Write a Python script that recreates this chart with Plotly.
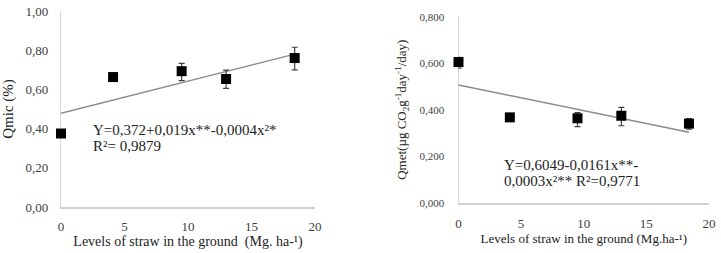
import plotly.graph_objects as go

# ---- data ----
straw = [0, 4.1, 9.5, 13.0, 18.4]

qmic = [0.375, 0.663, 0.693, 0.653, 0.760]
qmic_err_plus = [0.0, 0.0, 0.040, 0.045, 0.055]
qmic_err_minus = [0.0, 0.0, 0.048, 0.048, 0.060]
qmic_trend_x = [0, 18.4]
qmic_trend_y = [0.478, 0.780]

qmet = [0.605, 0.367, 0.363, 0.374, 0.340]
qmet_err_plus = [0.020, 0.0, 0.024, 0.036, 0.022]
qmet_err_minus = [0.026, 0.0, 0.036, 0.043, 0.024]
qmet_trend_x = [0, 18.4]
qmet_trend_y = [0.506, 0.303]

x_ticks = [0, 5, 10, 15, 20]
qmic_ticks = [0, 0.2, 0.4, 0.6, 0.8, 1.0]
qmic_ticktext = ["0,00", "0,20", "0,40", "0,60", "0,80", "1,00"]
qmet_ticks = [0, 0.2, 0.4, 0.6, 0.8]
qmet_ticktext = ["0,000", "0,200", "0,400", "0,600", "0,800"]

W, H = 721, 253
FONT = "Liberation Serif"
TICKC = "#404040"
TXT = "#222222"

fig = go.Figure()

# Left panel
fig.add_trace(go.Scatter(x=qmic_trend_x, y=qmic_trend_y, mode="lines",
                         line=dict(color="#8c8c8c", width=1.5),
                         xaxis="x", yaxis="y", showlegend=False))
fig.add_trace(go.Scatter(x=straw, y=qmic, mode="markers", cliponaxis=False,
                         marker=dict(symbol="square", size=10, color="black"),
                         error_y=dict(type="data", symmetric=False, array=qmic_err_plus,
                                      arrayminus=qmic_err_minus, color="#404040",
                                      thickness=1.2, width=3),
                         xaxis="x", yaxis="y", showlegend=False))

# Right panel
fig.add_trace(go.Scatter(x=qmet_trend_x, y=qmet_trend_y, mode="lines",
                         line=dict(color="#8c8c8c", width=1.5),
                         xaxis="x2", yaxis="y2", showlegend=False))
fig.add_trace(go.Scatter(x=straw, y=qmet, mode="markers", cliponaxis=False,
                         marker=dict(symbol="square", size=10, color="black"),
                         error_y=dict(type="data", symmetric=False, array=qmet_err_plus,
                                      arrayminus=qmet_err_minus, color="#404040",
                                      thickness=1.2, width=3),
                         xaxis="x2", yaxis="y2", showlegend=False))

L_x0, L_x1 = 61, 315
L_y0, L_y1 = 207, 11
R_x0, R_x1 = 458.5, 709
R_y0, R_y1 = 202.7, 16.7

def px(a):
    return a / W

def py(b):
    return (H - b) / H

axis_common = dict(showgrid=False, zeroline=False, ticks="", showline=True,
                   automargin=False, layer="below traces")

fig.update_layout(
    width=W, height=H,
    margin=dict(l=0, r=0, t=0, b=0, autoexpand=False),
    paper_bgcolor="white", plot_bgcolor="white",
    font=dict(family=FONT, color=TXT),
    xaxis=dict(domain=[px(L_x0), px(L_x1)], range=[0, 20], tickvals=x_ticks,
               linecolor="#d0d0d0", linewidth=1.5, anchor="y",
               ticklabelstandoff=7,
               tickfont=dict(family=FONT, size=13, color=TICKC),
               title=dict(text="Levels of straw in the ground  (Mg. ha-¹)",
                          font=dict(family=FONT, size=14, color=TXT), standoff=3),
               **axis_common),
    yaxis=dict(domain=[py(L_y0), py(L_y1)], range=[0, 1.0], tickvals=qmic_ticks,
               ticktext=qmic_ticktext, linecolor="#d9d9d9", linewidth=1.2, anchor="x",
               ticklabelstandoff=9,
               tickfont=dict(family=FONT, size=13, color=TICKC),
               title=dict(text="Qmic (%)", font=dict(family=FONT, size=15, color=TXT),
                          standoff=8),
               **axis_common),
    xaxis2=dict(domain=[px(R_x0), px(R_x1)], range=[0, 20], tickvals=x_ticks,
                linecolor="#d0d0d0", linewidth=1.5, anchor="y2",
                ticklabelstandoff=8,
                tickfont=dict(family=FONT, size=13, color=TICKC),
                title=dict(text="Levels of straw in the ground (Mg.ha-¹)",
                           font=dict(family=FONT, size=13, color=TXT), standoff=2),
                **axis_common),
    yaxis2=dict(domain=[py(R_y0), py(R_y1)], range=[0, 0.8], tickvals=qmet_ticks,
                ticktext=qmet_ticktext, linecolor="#d9d9d9", linewidth=1.2, anchor="x2",
                ticklabelstandoff=11,
                tickfont=dict(family=FONT, size=11, color=TICKC),
                title=dict(text="Qmet(µg CO<sub>2</sub>g<sup>-1</sup>day<sup>-1</sup>/day)",
                           font=dict(family=FONT, size=13, color=TXT), standoff=9),
                **axis_common),
)

ann_font = dict(family=FONT, size=15, color=TXT)
fig.add_annotation(x=2.4, y=0.393, xref="x", yref="y", xanchor="left", yanchor="middle",
                   text="Y=0,372+0,019x**-0,0004x²*", showarrow=False, font=ann_font)
fig.add_annotation(x=2.4, y=0.311, xref="x", yref="y", xanchor="left", yanchor="middle",
                   text="R²= 0,9879", showarrow=False, font=ann_font)
fig.add_annotation(x=3.45, y=0.162, xref="x2", yref="y2", xanchor="left", yanchor="middle",
                   text="Y=0,6049-0,0161x**-", showarrow=False, font=ann_font)
fig.add_annotation(x=3.45, y=0.093, xref="x2", yref="y2", xanchor="left", yanchor="middle",
                   text="0,0003x²** R²=0,9771", showarrow=False, font=ann_font)

fig.write_html("out.html", config={"displayModeBar": False},
               post_script="document.body.style.margin='0';document.body.style.overflow='hidden';")
